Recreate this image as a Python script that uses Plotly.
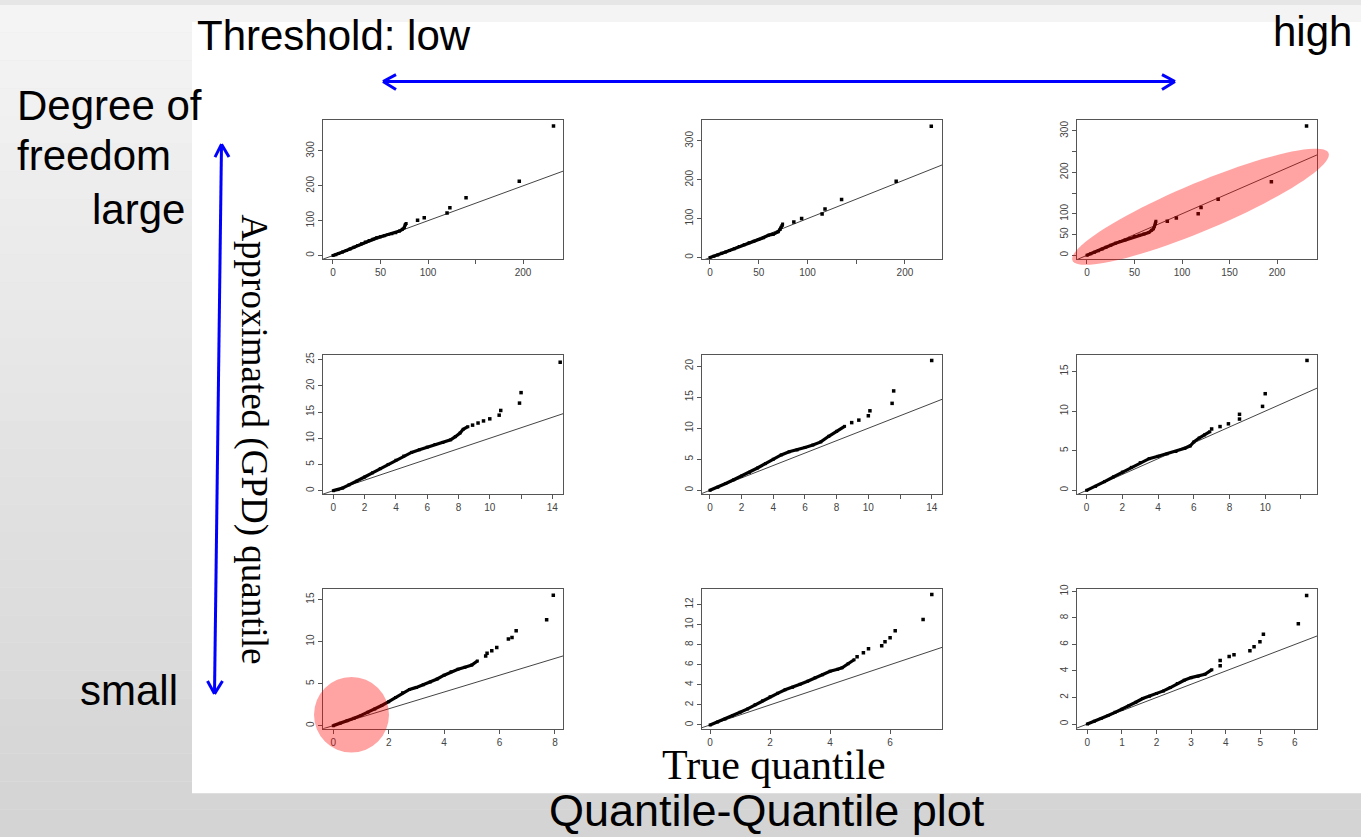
import numpy as np
import plotly.graph_objects as go

W, H = 1361, 837

# ---------------- data ----------------
# Row 1 (large degree of freedom)
p1_dense_x = [0, 3, 6, 10, 14, 18, 22, 26, 30, 34, 38, 42, 46, 50, 54, 58, 62, 66, 70, 73, 75, 76, 77]
p1_dense_y = [0, 2.5, 5.5, 9.8, 14.5, 19, 24, 29, 34, 38.5, 43, 47, 51, 54, 57, 60, 62.5, 65, 70, 75, 80, 88, 92]
p1_tail_x = [89, 96, 120, 123, 140, 196, 232]
p1_tail_y = [101, 108, 122, 137, 166, 213, 372]

p2_dense_x = [0, 4, 8, 12, 16, 20, 25, 30, 35, 40, 45, 50, 55, 60, 65, 70, 72, 73, 74, 74.5]
p2_dense_y = [0, 3, 6.5, 10.5, 14, 18, 22.5, 28, 33, 38, 42, 46, 51, 57, 60, 66, 72, 78, 82, 86]
p2_tail_x = [86, 94, 115, 118, 135, 191, 227]
p2_tail_y = [91, 100, 112, 125, 149, 196, 338]

p3_dense_x = [0, 4, 8, 12, 16, 20, 25, 30, 35, 40, 45, 50, 55, 60, 65, 68, 70, 71, 72, 72.5]
p3_dense_y = [0, 3.5, 7.5, 11, 15, 19, 24, 29, 33, 37, 41, 45, 48, 51, 55, 60, 64, 70, 76, 82]
p3_tail_x = [84.5, 94, 117, 120, 138, 194, 231]
p3_tail_y = [82, 90, 100, 115, 135, 177, 312]

# Row 2
p4_dense_x = [0, 0.3, 0.6, 1.0, 1.5, 2.0, 2.5, 3.0, 3.5, 4.0, 4.5, 5.0, 5.5, 6.0, 6.5, 7.0, 7.5, 7.8, 8.1, 8.3, 8.6]
p4_dense_y = [0, 0.2, 0.5, 1.1, 1.8, 2.6, 3.4, 4.2, 5.0, 5.8, 6.6, 7.3, 7.8, 8.3, 8.8, 9.2, 9.7, 10.3, 11.0, 11.7, 12.2]
p4_tail_x = [8.9, 9.25, 9.6, 10.0, 10.6, 10.7, 11.9, 12.0, 14.5]
p4_tail_y = [12.5, 12.9, 13.3, 13.7, 14.4, 15.3, 16.7, 18.7, 24.5]

p5_dense_x = [0, 0.5, 1.0, 1.5, 2.0, 2.5, 3.0, 3.5, 4.0, 4.5, 5.0, 5.5, 6.0, 6.5, 7.0, 7.5, 8.0, 8.5]
p5_dense_y = [0, 0.5, 1.1, 1.7, 2.3, 2.9, 3.6, 4.3, 5.0, 5.7, 6.2, 6.5, 6.9, 7.3, 7.8, 8.7, 9.5, 10.3]
p5_tail_x = [8.95, 9.4, 10.0, 10.1, 11.5, 11.6, 14.0]
p5_tail_y = [10.9, 11.3, 12.0, 12.8, 14.0, 16.0, 20.9]

p6_dense_x = [0, 0.5, 1.0, 1.5, 2.0, 2.5, 3.0, 3.5, 4.0, 4.5, 5.0, 5.5, 5.8, 6.0, 6.3, 6.6, 6.9]
p6_dense_y = [0, 0.5, 1.1, 1.7, 2.3, 2.9, 3.5, 4.0, 4.3, 4.6, 4.9, 5.3, 5.6, 6.1, 6.6, 7.0, 7.4]
p6_tail_x = [7.0, 7.47, 7.94, 8.56, 8.56, 9.85, 10.0, 12.34]
p6_tail_y = [7.75, 8.05, 8.4, 9.0, 9.6, 10.6, 12.2, 16.4]

# Row 3 (small degree of freedom)
p7_dense_x = [0, 0.25, 0.5, 0.75, 1.0, 1.25, 1.5, 1.75, 2.0, 2.25, 2.5, 2.75, 3.0, 3.25, 3.5, 3.75, 4.0, 4.25, 4.5, 4.75, 5.0, 5.2]
p7_dense_y = [0, 0.28, 0.58, 0.88, 1.22, 1.58, 1.98, 2.4, 2.85, 3.35, 3.9, 4.3, 4.55, 4.85, 5.2, 5.55, 6.0, 6.4, 6.7, 6.95, 7.2, 7.7]
p7_tail_x = [5.5, 5.55, 5.72, 5.9, 6.32, 6.45, 6.6, 7.7, 7.94]
p7_tail_y = [8.3, 8.6, 8.9, 9.3, 10.3, 10.5, 11.3, 12.6, 15.5]

p8_dense_x = [0, 0.25, 0.5, 0.75, 1.0, 1.25, 1.5, 1.75, 2.0, 2.25, 2.5, 2.75, 3.0, 3.25, 3.5, 3.75, 4.0, 4.25, 4.4, 4.6, 4.8]
p8_dense_y = [0, 0.3, 0.6, 0.92, 1.26, 1.6, 2.0, 2.4, 2.8, 3.15, 3.5, 3.75, 4.05, 4.35, 4.7, 5.0, 5.35, 5.55, 5.7, 6.1, 6.5]
p8_tail_x = [4.9, 5.11, 5.28, 5.72, 5.83, 6.0, 6.17, 7.1, 7.39]
p8_tail_y = [6.8, 7.2, 7.6, 7.9, 8.3, 8.7, 9.4, 10.5, 13.0]

p9_dense_x = [0, 0.2, 0.4, 0.6, 0.8, 1.0, 1.2, 1.4, 1.6, 1.8, 2.0, 2.2, 2.4, 2.6, 2.8, 3.0, 3.2, 3.4, 3.6]
p9_dense_y = [0, 0.2, 0.42, 0.64, 0.88, 1.12, 1.38, 1.64, 1.92, 2.1, 2.3, 2.5, 2.75, 3.05, 3.3, 3.5, 3.6, 3.75, 4.1]
p9_tail_x = [3.84, 3.84, 4.1, 4.24, 4.7, 4.82, 4.99, 5.09, 6.1, 6.34]
p9_tail_y = [4.4, 4.79, 5.09, 5.23, 5.53, 5.83, 6.2, 6.77, 7.57, 9.7]

# tick values / labels
x_ticks = [
    [0, 50, 100, 150, 200], [0, 50, 100, 150, 200], [0, 50, 100, 150, 200],
    [0, 2, 4, 6, 8, 10, 12, 14], [0, 2, 4, 6, 8, 10, 12, 14], [0, 2, 4, 6, 8, 10, 12],
    [0, 2, 4, 6, 8], [0, 2, 4, 6], [0, 1, 2, 3, 4, 5, 6],
]
x_labels = [
    ["0", "50", "100", "", "200"], ["0", "50", "100", "", "200"], ["0", "50", "100", "150", "200"],
    ["0", "2", "4", "6", "8", "10", "", "14"], ["0", "2", "4", "6", "8", "10", "", "14"],
    ["0", "2", "4", "6", "8", "10", ""],
    ["0", "2", "4", "6", "8"], ["0", "2", "4", "6"], ["0", "1", "2", "3", "4", "5", "6"],
]
y_ticks = [
    [0, 100, 200, 300], [0, 100, 200, 300], [0, 50, 100, 150, 200, 250, 300],
    [0, 5, 10, 15, 20, 25], [0, 5, 10, 15, 20], [0, 5, 10, 15],
    [0, 5, 10, 15], [0, 2, 4, 6, 8, 10, 12], [0, 2, 4, 6, 8, 10],
]
y_labels = [
    ["0", "100", "200", "300"], ["0", "100", "200", "300"], ["0", "50", "100", "", "200", "", "300"],
    ["0", "5", "10", "15", "20", "25"], ["0", "5", "10", "15", "20"], ["0", "5", "10", "15"],
    ["0", "5", "10", "15"], ["0", "2", "4", "6", "8", "10", "12"], ["0", "2", "4", "6", "8", "10"],
]

# ---------------- layout geometry ----------------
x_ranges = [[-10.5, 242], [-8.2, 238], [-10.5, 242],
            [-0.66, 14.68], [-0.5, 14.65], [-0.54, 12.9],
            [-0.37, 8.29], [-0.27, 7.73], [-0.3, 6.64]]
y_ranges = [[-11.4, 388], [-5.2, 353], [-10.2, 325.5],
            [-0.65, 25.9], [-0.6, 21.8], [-0.47, 17.1],
            [-0.36, 16.2], [-0.37, 13.5], [-0.35, 10.15]]
col_px = [(323, 563), (702, 942), (1077, 1317)]
row_px = [(116, 256), (352, 492), (588, 728)]


def px(x):
    return x / W


def py(y):
    return 1 - y / H


dense = [(p1_dense_x, p1_dense_y), (p2_dense_x, p2_dense_y), (p3_dense_x, p3_dense_y),
         (p4_dense_x, p4_dense_y), (p5_dense_x, p5_dense_y), (p6_dense_x, p6_dense_y),
         (p7_dense_x, p7_dense_y), (p8_dense_x, p8_dense_y), (p9_dense_x, p9_dense_y)]
tails = [(p1_tail_x, p1_tail_y), (p2_tail_x, p2_tail_y), (p3_tail_x, p3_tail_y),
         (p4_tail_x, p4_tail_y), (p5_tail_x, p5_tail_y), (p6_tail_x, p6_tail_y),
         (p7_tail_x, p7_tail_y), (p8_tail_x, p8_tail_y), (p9_tail_x, p9_tail_y)]

fig = go.Figure()
layout = {}
tick_font = dict(family="Liberation Sans, Arial, sans-serif", size=10, color="#444")
for i in range(9):
    r, c = divmod(i, 3)
    n = "" if i == 0 else str(i + 1)
    xa, ya = "x" + n, "y" + n
    dx, dy = dense[i]
    tx, ty = tails[i]
    xr = x_ranges[i]
    # reference line y = x
    fig.add_trace(go.Scatter(x=[xr[0], xr[1]], y=[xr[0], xr[1]], mode="lines",
                             line=dict(color="#444", width=1), xaxis=xa, yaxis=ya,
                             showlegend=False, hoverinfo="skip"))
    fig.add_trace(go.Scatter(x=dx, y=dy, mode="lines+markers",
                             line=dict(color="black", width=3.2),
                             marker=dict(color="black", size=3, symbol="square"),
                             xaxis=xa, yaxis=ya, showlegend=False))
    fig.add_trace(go.Scatter(x=tx, y=ty, mode="markers",
                             marker=dict(color="black", size=3.5, symbol="square"),
                             xaxis=xa, yaxis=ya, showlegend=False))
    layout["xaxis" + n] = dict(
        domain=[px(col_px[c][0]), px(col_px[c][1])], range=xr, anchor=ya,
        tickmode="array", tickvals=x_ticks[i], ticktext=x_labels[i],
        ticks="outside", ticklen=4, tickcolor="#555", tickfont=tick_font,
        showline=True, mirror=True, linecolor="#555", linewidth=1,
        showgrid=False, zeroline=False, fixedrange=True)
    layout["yaxis" + n] = dict(
        domain=[py(row_px[r][1]), py(row_px[r][0])], range=y_ranges[i], anchor=xa,
        tickmode="array", tickvals=y_ticks[i], ticktext=y_labels[i], tickangle=-90,
        ticks="outside", ticklen=4, tickcolor="#555", tickfont=tick_font,
        showline=True, mirror=True, linecolor="#555", linewidth=1,
        showgrid=False, zeroline=False, fixedrange=True)

shapes = []
# background gradient
nb = 30
for k in range(nb):
    g = int(round(244 - (244 - 212) * k / (nb - 1)))
    shapes.append(dict(type="rect", xref="paper", yref="paper", x0=0, x1=1,
                       y0=py((k + 1) * H / nb), y1=py(k * H / nb),
                       fillcolor=f"rgb({g},{g},{g})", line=dict(width=0), layer="below"))
shapes.append(dict(type="rect", xref="paper", yref="paper", x0=px(192), x1=1,
                   y0=py(793), y1=py(17), fillcolor="white", line=dict(width=0), layer="below"))

blue = "#0000ff"


def seg(x0, y0, x1, y1, w=3):
    return dict(type="line", xref="paper", yref="paper", x0=px(x0), y0=py(y0),
                x1=px(x1), y1=py(y1), line=dict(color=blue, width=w), layer="above")


# horizontal double arrow
shapes += [seg(383, 77, 1175, 77), seg(383, 77, 396, 70), seg(383, 77, 396, 85),
           seg(1175, 77, 1162, 70), seg(1175, 77, 1162, 85)]
# vertical double arrow
shapes += [seg(221.5, 140, 214.5, 693), seg(221.5, 140, 215, 153), seg(221.5, 140, 229, 153),
           seg(214.5, 693, 207.5, 680), seg(214.5, 693, 222.5, 680)]

red = "rgba(255,0,0,0.36)"
# circle on bottom-left panel
shapes.append(dict(type="circle", xref="paper", yref="paper", x0=px(314), x1=px(389),
                   y0=py(752), y1=py(676), fillcolor=red, line=dict(width=0), layer="above"))
# rotated ellipse on top-right panel
cx, cy, a, b, th = 1200.5, 203, 139, 24, np.deg2rad(22.9)
t = np.linspace(0, 2 * np.pi, 90)
ex = cx + a * np.cos(t) * np.cos(th) - b * np.sin(t) * np.sin(th)
ey = cy - (a * np.cos(t) * np.sin(th) + b * np.sin(t) * np.cos(th))
path = "M " + " L ".join(f"{px(u):.5f},{py(v):.5f}" for u, v in zip(ex, ey)) + " Z"
shapes.append(dict(type="path", xref="paper", yref="paper", path=path, fillcolor=red,
                   line=dict(width=0), layer="above"))

sans = "Liberation Sans, Arial, sans-serif"
serif = "Liberation Serif, Times New Roman, serif"


def txt(s, x, y, xa="left", size=42, fam=sans, angle=0):
    return dict(text=s, x=px(x), y=py(y), xref="paper", yref="paper", xanchor=xa,
                yanchor="middle", showarrow=False, textangle=angle,
                font=dict(family=fam, size=size, color="black"))


annotations = [
    txt("Threshold: low", 195, 31),
    txt("high", 1354, 27, xa="right"),
    txt("Degree of", 15, 101),
    txt("freedom", 15, 151),
    txt("large", 187, 206, xa="right"),
    txt("small", 180, 690, xa="right"),
    txt("Quantile-Quantile plot", 767, 810, xa="center", size=45),
    txt("True quantile", 774, 765, xa="center", size=42, fam=serif),
    txt("Approximated (GPD) quantile", 254, 437, xa="center", size=37, fam=serif, angle=90),
]

fig.update_layout(width=W, height=H, margin=dict(l=0, r=0, t=0, b=0),
                  paper_bgcolor="#e6e6e6", plot_bgcolor="white",
                  shapes=shapes, annotations=annotations, showlegend=False, **layout)
fig.write_html("out.html", config={"displayModeBar": False},
               post_script="document.body.style.margin='0';document.body.style.overflow='hidden';")
